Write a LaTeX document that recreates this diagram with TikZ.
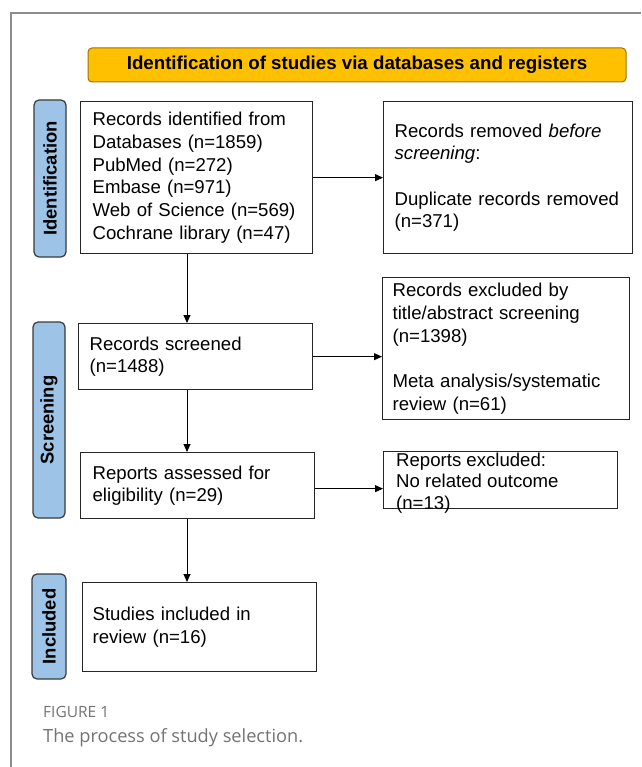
\documentclass[tikz,border=0pt]{standalone}
\usepackage{fontspec}
\setmainfont{Liberation Sans}
\newfontfamily\capfont{Open Sans}
\usetikzlibrary{arrows.meta}
\definecolor{titlefill}{HTML}{FFC000}
\definecolor{titleline}{HTML}{9C7500}
\definecolor{labfill}{HTML}{9DC3E6}
\definecolor{labline}{HTML}{3A3A3A}
\definecolor{boxline}{HTML}{262626}
\definecolor{framegray}{HTML}{8C8C8C}
\definecolor{capgray}{HTML}{737373}
\tikzset{
  box/.style={draw=boxline, line width=1.3pt, fill=white, anchor=north west,
    inner ysep=0pt, align=left, text=black,
    font=\fontsize{18.6}{22.7}\selectfont},
  lab/.style={draw=labline, fill=labfill, line width=1.2pt, rounded corners=5pt,
    rotate=90, inner sep=0pt, text=black,
    font=\bfseries\fontsize{18.4}{22}\selectfont},
  arr/.style={draw=black, line width=0.9pt, -{Triangle[length=8pt,width=7pt]}},
}
\begin{document}
\begin{tikzpicture}[x=1pt,y=-1pt]
\useasboundingbox (0,0) rectangle (641,767);
% frame of the figure
\draw[framegray, line width=1.4pt] (11,767) -- (11,13) -- (641,13);
% title
\node[draw=titleline, fill=titlefill, line width=1pt, rounded corners=4pt,
  minimum width=538pt, minimum height=34pt, inner sep=0pt,
  font=\bfseries\fontsize{18.7}{22}\selectfont] (title) at (357,65)
  {Identification of studies via databases and registers};
% phase labels
\node[lab, minimum width=157pt, minimum height=32pt] (labid) at (50,178.5) {Identification};
\node[lab, minimum width=196pt, minimum height=32pt] (labscr) at (49,420) {Screening};
\node[lab, minimum width=105pt, minimum height=34pt] (labinc) at (49,626.5) {Included};
% boxes
\node[box, minimum width=232pt, minimum height=152pt, inner xsep=12pt, text width=208pt] (ids) at (80,101)
  {Records identified from\\Databases (n=1859)\\PubMed (n=272)\\Embase (n=971)\\Web of Science (n=569)\\Cochrane library (n=47)};
\node[box, minimum width=249pt, minimum height=152pt, inner xsep=11pt, text width=227pt] (dup) at (383,101)
  {Records removed \textit{before}\\\textit{screening}:\\[22.7pt]Duplicate records removed\\(n=371)};
\node[box, minimum width=234pt, minimum height=66pt, inner xsep=11pt, text width=212pt] (scr) at (78,323)
  {Records screened\\(n=1488)};
\node[box, minimum width=247pt, minimum height=142pt, inner xsep=10pt, text width=227pt] (exc1) at (382,277)
  {Records excluded by\\title/abstract screening\\(n=1398)\\[22.7pt]Meta analysis/systematic\\review (n=61)};
\node[box, minimum width=234pt, minimum height=57pt] (exc2) at (383,451) {};
\node[anchor=west, align=left, inner sep=0pt, text=black,
  font=\fontsize{18.6}{21.5}\selectfont] (exc2t) at ([xshift=13pt,yshift=-3pt]exc2.west)
  {Reports excluded:\\No related outcome\\(n=13)};
\node[box, minimum width=234pt, minimum height=66pt, inner xsep=12pt, text width=210pt] (ass) at (80,452)
  {Reports assessed for\\eligibility (n=29)};
\node[box, minimum width=234pt, minimum height=89pt, inner xsep=10pt, text width=214pt] (inc) at (82,582)
  {Studies included in\\review (n=16)};
% connectors
\coordinate (ax) at (187,0);
\draw[arr] (ids.east) -- (dup.west);
\draw[arr] (ids.south -| ax) -- (scr.north -| ax);
\draw[arr] (scr.east) -- (scr.east -| exc1.west);
\draw[arr] (scr.south -| ax) -- (ass.north -| ax);
\draw[arr] ([yshift=-3pt]ass.east) -- ([yshift=-3pt]ass.east -| exc2.west);
\draw[arr] (ass.south -| ax) -- (inc.north -| ax);
% caption
\node[anchor=base west, inner sep=0pt, text=capgray, font=\capfont\fontsize{15.5}{18}\selectfont] (fig) at (43,717) {FIGURE 1};
\node[anchor=base west, inner sep=0pt, text=capgray, font=\capfont\fontsize{18.2}{22}\selectfont] (cap) at (43,742) {The process of study selection.};
\end{tikzpicture}
\end{document}
